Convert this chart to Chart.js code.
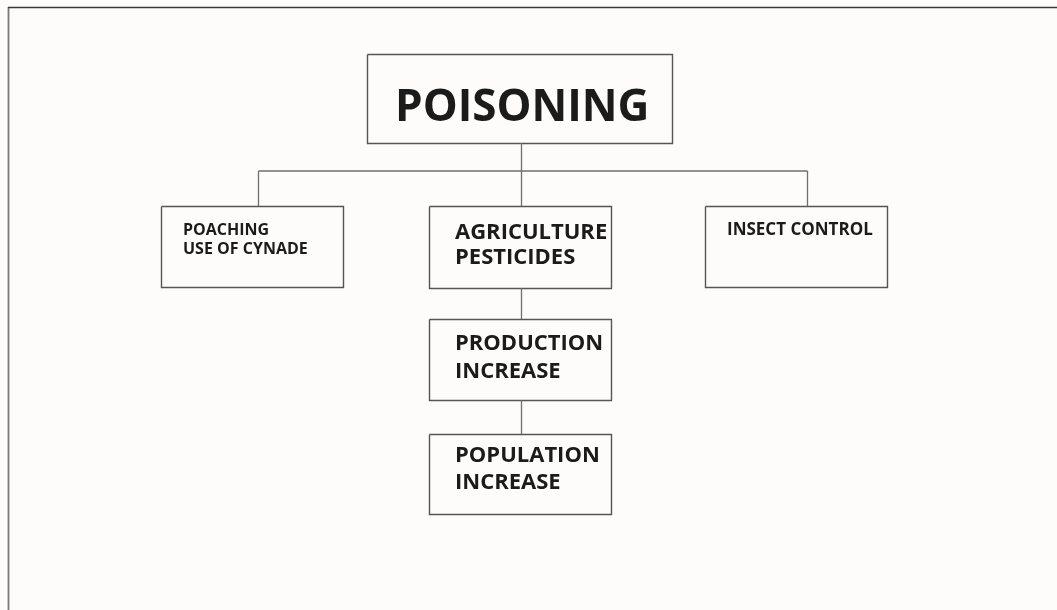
<!DOCTYPE html>
<html>
<head>
<meta charset="utf-8">
<script src="https://cdn.jsdelivr.net/npm/chart.js@4/dist/chart.umd.min.js"></script>
<style>
  html, body { margin: 0; padding: 0; background: #fdfcfb; }
  #wrap { width: 1057px; height: 610px; }
</style>
</head>
<body>
<div id="wrap"><canvas id="flow" width="1057" height="610"></canvas></div>
<script>
// ── Diagram content (units = diagram grid, 1 unit ≈ 1px of the original) ─────
const nodeLabels = [
  ['POISONING'],
  ['POACHING', 'USE OF CYNADE'],
  ['AGRICULTURE', 'PESTICIDES'],
  ['INSECT CONTROL'],
  ['PRODUCTION', 'INCREASE'],
  ['POPULATION', 'INCREASE'],
];
const nodeLeft   = [367, 161, 429, 705, 429, 429];
const nodeRight  = [672, 343, 611, 887, 611, 611];
const nodeTop    = [54, 206, 206, 206, 319, 434];
const nodeBottom = [143, 287, 288, 287, 400, 514];

// text anchor (left edge + first baseline) and line gap
const textLeft  = [395, 183, 455, 727, 455, 455];
const textBase  = [121, 235, 239, 235, 350, 462];
const textGap   = [0, 19, 25, 0, 28, 27];
const textSize  = [44, 16, 22, 17, 22, 22];

// connectors: [x1, y1, x2, y2]
const links = [
  [521, 143, 521, 171],
  [258, 171, 807, 171],
  [258, 171, 258, 206],
  [521, 171, 521, 206],
  [807, 171, 807, 206],
  [521, 288, 521, 319],
  [521, 400, 521, 434],
];

// page frame (top + left rule)
const frameTop  = [[8, 7.5], [1057, 7.5]];
const frameLeft = [[8.5, 7], [8.5, 610]];

// ── Datasets ─────────────────────────────────────────────────────────────────
const LINE_COLOR = '#6f6f6f';
const BOX_COLOR  = '#555555';

const datasets = [];
links.forEach(l => {
  datasets.push({
    data: [{ x: l[0] + 0.5, y: l[1] }, { x: l[2] + 0.5, y: l[3] }],
    showLine: true, pointRadius: 0, borderWidth: 1.3,
    borderColor: LINE_COLOR,
  });
});
nodeLabels.forEach((_, i) => {
  const l = nodeLeft[i] + 0.5, r = nodeRight[i] + 0.5;
  const t = nodeTop[i] + 0.5, b = nodeBottom[i] + 0.5;
  datasets.push({
    data: [{ x: l, y: t }, { x: r, y: t }, { x: r, y: b }, { x: l, y: b }, { x: l, y: t }],
    showLine: true, pointRadius: 0, borderWidth: 1.4,
    borderColor: BOX_COLOR, borderJoinStyle: 'miter',
  });
});
datasets.push({
  data: frameTop.map(p => ({ x: p[0], y: p[1] })),
  showLine: true, pointRadius: 0, borderWidth: 1.6, borderColor: '#3a3a3a',
});
datasets.push({
  data: frameLeft.map(p => ({ x: p[0], y: p[1] })),
  showLine: true, pointRadius: 0, borderWidth: 1.8, borderColor: '#7a7a7a',
});

// ── Box labels ───────────────────────────────────────────────────────────────
const labelPlugin = {
  id: 'boxLabels',
  afterDatasetsDraw(chart) {
    const { ctx, scales: { x, y } } = chart;
    ctx.save();
    ctx.fillStyle = '#1b1b1b';
    ctx.textAlign = 'left';
    ctx.textBaseline = 'alphabetic';
    nodeLabels.forEach((lines, i) => {
      ctx.font = `bold ${textSize[i]}px "Open Sans", "DejaVu Sans", sans-serif`;
      lines.forEach((txt, j) => {
        ctx.fillText(txt, x.getPixelForValue(textLeft[i]),
          y.getPixelForValue(textBase[i] + j * textGap[i]));
      });
    });
    ctx.restore();
  }
};

new Chart(document.getElementById('flow').getContext('2d'), {
  type: 'scatter',
  data: { datasets },
  options: {
    responsive: false,
    animation: false,
    layout: { padding: 0 },
    plugins: { legend: { display: false }, tooltip: { enabled: false } },
    scales: {
      x: { type: 'linear', min: 0, max: 1057, display: false },
      y: { type: 'linear', min: 0, max: 610, reverse: true, display: false },
    },
  },
  plugins: [labelPlugin],
});
</script>
</body>
</html>
